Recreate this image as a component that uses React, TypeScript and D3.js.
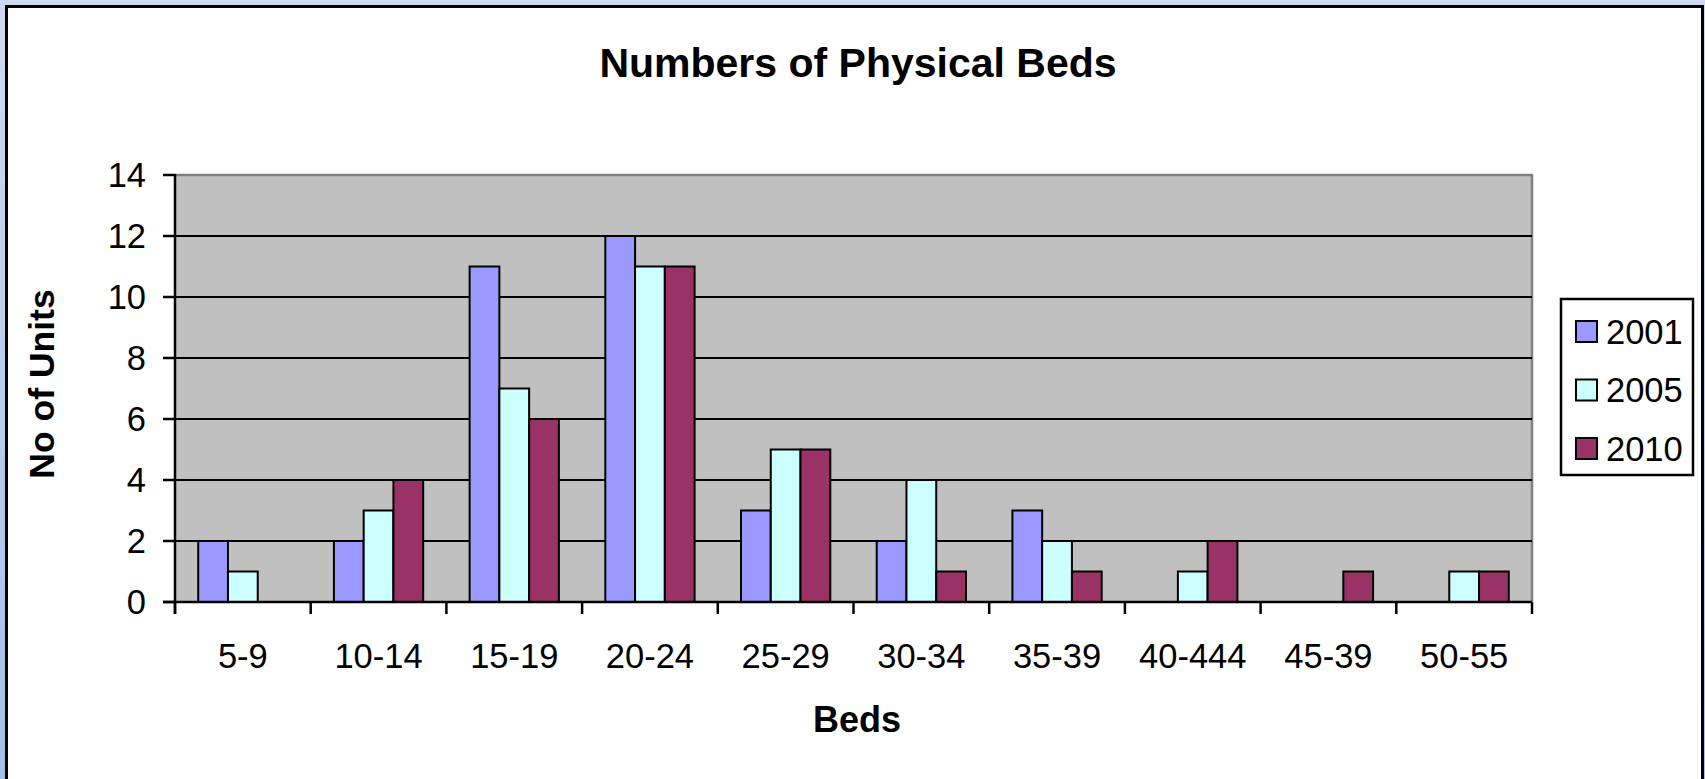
import React from "react";
import * as d3 from "d3";

const categories = ["5-9", "10-14", "15-19", "20-24", "25-29", "30-34", "35-39", "40-444", "45-39", "50-55"];
const seriesNames = ["2001", "2005", "2010"];
const values2001 = [2, 2, 11, 12, 3, 2, 3, 0, 0, 0];
const values2005 = [1, 3, 7, 11, 5, 4, 2, 1, 0, 1];
const values2010 = [0, 4, 6, 11, 5, 1, 1, 2, 1, 1];
const yTicks = [0, 2, 4, 6, 8, 10, 12, 14];
const colors = ["#9999ff", "#ccffff", "#993366"];

const W = 1705;
const H = 779;
const PL = 175, PR = 1532, PT = 175, PB = 602;

export default function App() {
  const seriesValues = [values2001, values2005, values2010];
  const x0 = d3.scaleBand<string>().domain(categories).range([PL, PR]).paddingInner(0).paddingOuter(0);
  const x1 = d3.scaleBand<string>().domain(seriesNames).range([0, x0.bandwidth()]).paddingInner(0).paddingOuter(0.78);
  const y = d3.scaleLinear().domain([0, 14]).range([PB, PT]);
  const font = "Arial, 'Liberation Sans', Helvetica, sans-serif";
  const boundaries = categories.map((c) => x0(c) as number).concat([PR]);
  const fs = 34.5;

  return (
    <div style={{ position: "absolute", left: 0, top: 0 }}>
      <svg width={W} height={H} style={{ display: "block" }} fontFamily={font}>
        <defs>
          <linearGradient id="bg" x1="0" y1="0" x2="0" y2="1">
            <stop offset="0" stopColor="#cdd9f0" />
            <stop offset="1" stopColor="#a6bfe8" />
          </linearGradient>
        </defs>
        <rect x={0} y={0} width={W} height={H} fill="url(#bg)" />
        <rect x={6.5} y={6.5} width={1696} height={820} fill="#ffffff" stroke="#000000" strokeWidth={3} />

        <text x={858} y={77} textAnchor="middle" fontSize={41} fontWeight="bold">
          Numbers of Physical Beds
        </text>

        {/* plot area */}
        <rect x={PL} y={PT} width={PR - PL} height={PB - PT} fill="#c0c0c0" />
        <line x1={PL} x2={PR} y1={PT} y2={PT} stroke="#808080" strokeWidth={2.5} />
        <line x1={PR} x2={PR} y1={PT - 1} y2={PB} stroke="#808080" strokeWidth={2.5} />
        {yTicks.filter((t) => t > 0 && t < 14).map((t) => (
          <line key={t} x1={PL} x2={PR} y1={y(t)} y2={y(t)} stroke="#000000" strokeWidth={2} />
        ))}

        {/* bars */}
        {categories.map((c, i) => (
          <g key={c} transform={`translate(${x0(c)},0)`}>
            {seriesNames.map((s, j) => {
              const v = seriesValues[j][i];
              if (v <= 0) return null;
              return (
                <rect
                  key={s}
                  x={x1(s) as number}
                  y={y(v)}
                  width={x1.bandwidth()}
                  height={y(0) - y(v)}
                  fill={colors[j]}
                  stroke="#000000"
                  strokeWidth={2}
                />
              );
            })}
          </g>
        ))}

        {/* axes */}
        <line x1={PL} x2={PL} y1={PT - 1} y2={PB + 12} stroke="#000000" strokeWidth={2.5} />
        <line x1={PL - 12} x2={PR} y1={PB} y2={PB} stroke="#000000" strokeWidth={2.5} />
        {yTicks.map((t) => (
          <g key={t}>
            <line x1={PL - 12} x2={PL} y1={y(t)} y2={y(t)} stroke="#000000" strokeWidth={2.5} />
            <text x={146} y={y(t)} dy="0.35em" textAnchor="end" fontSize={fs}>
              {t}
            </text>
          </g>
        ))}
        {boundaries.map((b, i) => (
          <line key={i} x1={b} x2={b} y1={PB} y2={PB + 12} stroke="#000000" strokeWidth={2.5} />
        ))}
        {categories.map((c) => (
          <text key={c} x={(x0(c) as number) + x0.bandwidth() / 2} y={668} textAnchor="middle" fontSize={fs}>
            {c}
          </text>
        ))}

        <text x={857} y={732} textAnchor="middle" fontSize={36} fontWeight="bold">
          Beds
        </text>
        <text
          transform={`translate(54, 384) rotate(-90)`}
          textAnchor="middle"
          fontSize={35.5}
          fontWeight="bold"
        >
          No of Units
        </text>

        {/* legend */}
        <rect x={1561} y={299} width={132} height={176} fill="#ffffff" stroke="#000000" strokeWidth={2.5} />
        {seriesNames.map((s, j) => (
          <g key={s} transform={`translate(0, ${j * 58.5})`}>
            <rect x={1576} y={321} width={21} height={21} fill={colors[j]} stroke="#000000" strokeWidth={2} />
            <text x={1606} y={343.5} fontSize={fs}>
              {s}
            </text>
          </g>
        ))}
      </svg>
    </div>
  );
}
